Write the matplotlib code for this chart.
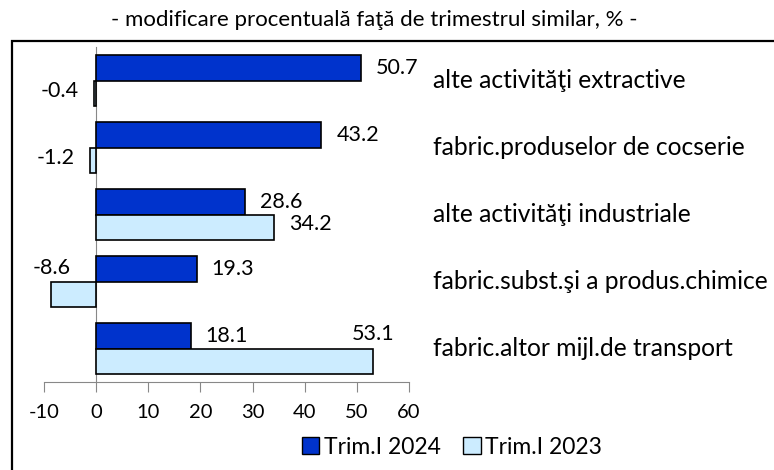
import matplotlib
matplotlib.use('Agg')
from matplotlib import pyplot as plt
from matplotlib.patches import Patch, Rectangle

plt.rcParams['font.family'] = ['Lato', 'DejaVu Sans']

categories = ['alte activităţi extractive',
              'fabric.produselor de cocserie',
              'alte activităţi industriale',
              'fabric.subst.şi a produs.chimice',
              'fabric.altor mijl.de transport']
trim_2024 = [50.7, 43.2, 28.6, 19.3, 18.1]
trim_2023 = [-0.4, -1.2, 34.2, -8.6, 53.1]
series_names = ['Trim.I 2024', 'Trim.I 2023']
title = '- modificare procentuală faţă de trimestrul similar, % -'
xticks = [-10, 0, 10, 20, 30, 40, 50, 60]

DARK = '#0033CC'
LIGHT = '#CCECFF'
FS_CAT = 17.7
FS_VAL = 15.5
FS_TICK = 14.5
FS_TITLE = 16
FS_LEG = 16.5


def plot_bars(ax):
    h = 0.388
    ys = range(len(categories))
    y24 = [y - h / 2 for y in ys]
    y23 = [y + h / 2 for y in ys]
    ax.barh(y24, trim_2024, height=h, color=DARK, edgecolor='black', linewidth=1.2, zorder=3)
    ax.barh(y23, trim_2023, height=h, color=LIGHT, edgecolor='black', linewidth=1.2, zorder=3)

    for y, v in zip(y24, trim_2024):
        ax.annotate(f'{v:.1f}', (v, y), xytext=(15, 0), textcoords='offset pixels',
                    ha='left', va='center', fontsize=FS_VAL)
    for y, v in zip(y23, trim_2023):
        if v in (-8.6, 53.1):
            # labels moved above the bar end
            ax.annotate(f'{v:.1f}', (v, y - h / 2), xytext=(0, 14), textcoords='offset pixels',
                        ha='center', va='center', fontsize=FS_VAL)
        elif v < 0:
            ax.annotate(f'{v:.1f}', (v, y), xytext=(-15, 2), textcoords='offset pixels',
                        ha='right', va='center', fontsize=FS_VAL)
        else:
            ax.annotate(f'{v:.1f}', (v, y), xytext=(15, 3), textcoords='offset pixels',
                        ha='left', va='center', fontsize=FS_VAL)

    for y, name in zip(ys, categories):
        ax.annotate(name, (1, y), xycoords=('axes fraction', 'data'), xytext=(24, 0),
                    textcoords='offset pixels', ha='left', va='center', fontsize=FS_CAT,
                    annotation_clip=False)

    ax.set_xlim(-10, 60)
    ax.set_ylim(len(categories) - 0.5, -0.5)
    ax.set_xticks(xticks)
    ax.set_xticklabels([str(t) for t in xticks], fontsize=FS_TICK)
    ax.set_yticks([])
    for s in ['top', 'right']:
        ax.spines[s].set_visible(False)
    ax.spines['left'].set_position(('data', 0))
    ax.spines['left'].set_color('#888888')
    ax.spines['bottom'].set_color('#888888')
    ax.tick_params(axis='x', direction='out', length=7, color='#888888', pad=9)


def main():
    fig = plt.figure(figsize=(7.74, 4.70), dpi=100)
    ax = fig.add_axes([44 / 774, 88 / 470, 365 / 774, 335 / 470])
    plot_bars(ax)

    fig.text(374 / 774, 1 - 20 / 470, title, ha='center', va='center', fontsize=FS_TITLE)

    fig.patches.append(Rectangle((12 / 774, -0.2), 1.0, 1.2 - 41 / 470, fill=False,
                                 edgecolor='black', linewidth=1.6, transform=fig.transFigure))

    handles = [Patch(facecolor=DARK, edgecolor='black'),
               Patch(facecolor=LIGHT, edgecolor='black')]
    fig.legend(handles, series_names, loc='center', bbox_to_anchor=(452 / 774, 1 - 447 / 470),
               ncol=2, frameon=False, fontsize=FS_LEG, handlelength=0.75, handleheight=0.75,
               handletextpad=0.2, columnspacing=1.0)

    fig.savefig('out.png', dpi=100)


main()
